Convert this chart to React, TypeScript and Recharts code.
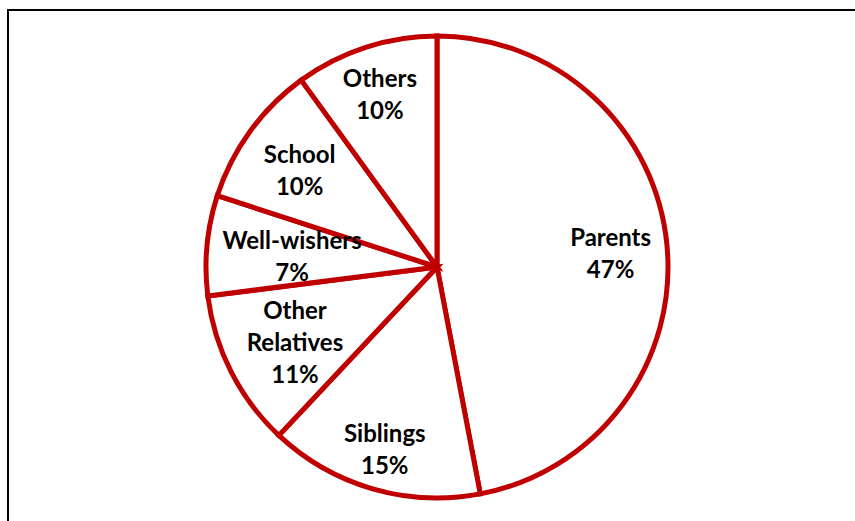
import { PieChart, Pie, Cell } from 'recharts'

const categories = ['Parents', 'Siblings', 'Other Relatives', 'Well-wishers', 'School', 'Others']
const shares = [47, 15, 11, 7, 10, 10]

// how far out each label sits, as a share of the radius (Excel "best fit" look)
const labelReach: Record<string, number> = {
  Parents: 0.755,
  Siblings: 0.81,
  'Other Relatives': 0.69,
  'Well-wishers': 0.63,
  School: 0.735,
  Others: 0.8,
}

const RED = '#c00000'
const RADIAN = Math.PI / 180

const data = categories.map((name, i) => ({ name, value: shares[i] }))

function SliceLabel(props: any) {
  const { cx, cy, midAngle, outerRadius, name, value } = props
  const r = outerRadius * (labelReach[name] ?? 0.7)
  const x = cx + r * Math.cos(-midAngle * RADIAN)
  const y = cy + r * Math.sin(-midAngle * RADIAN) + 1.5
  const lines = name === 'Other Relatives' ? ['Other', 'Relatives', `${value}%`] : [name, `${value}%`]
  const lh = 32
  const top = y - ((lines.length - 1) * lh) / 2
  return (
    <text
      x={x}
      y={top}
      textAnchor="middle"
      dominantBaseline="central"
      fill="#000"
      fontFamily="Lato, 'Open Sans', sans-serif"
      fontWeight={700}
      fontSize={24}
    >
      {lines.map((l, i) => (
        <tspan key={l} x={x} y={top + i * lh}>
          {l}
        </tspan>
      ))}
    </text>
  )
}

export default function App() {
  return (
    <div style={{ position: 'fixed', left: 0, top: 0, width: 855, height: 521, background: '#fff', overflow: 'hidden' }}>
      <div
        style={{
          position: 'absolute',
          left: 7,
          top: 9,
          width: 860,
          height: 530,
          borderTop: '2px solid #000',
          borderLeft: '2px solid #000',
        }}
      />
      <div style={{ position: 'absolute', left: 0, top: 0 }}>
        <PieChart width={855} height={521} margin={{ top: 0, right: 0, bottom: 0, left: 0 }}>
          <Pie
            data={data}
            dataKey="value"
            nameKey="name"
            cx={437}
            cy={267}
            outerRadius={231}
            startAngle={90}
            endAngle={-270}
            stroke={RED}
            strokeWidth={5}
            labelLine={false}
            label={SliceLabel}
            isAnimationActive={false}
          >
            {data.map((d) => (
              <Cell key={d.name} fill="#fff" stroke={RED} strokeWidth={5} />
            ))}
          </Pie>
        </PieChart>
      </div>
    </div>
  )
}
